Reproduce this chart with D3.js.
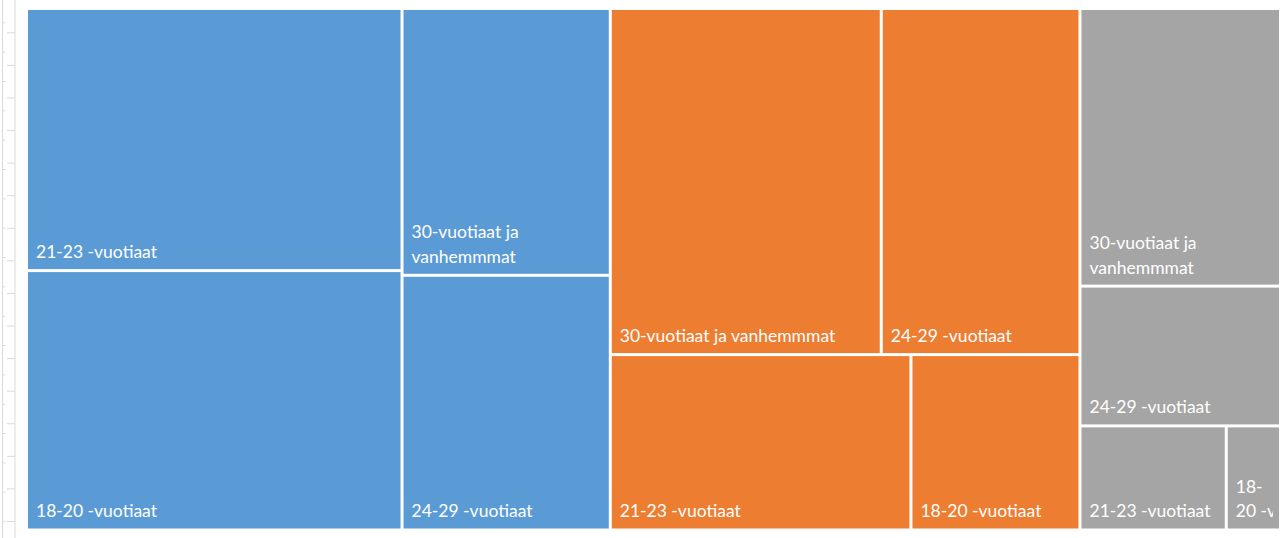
<!DOCTYPE html>
<html>
<head>
<meta charset="utf-8">
<script src="https://cdn.jsdelivr.net/npm/d3@7"></script>
<style>
  body { margin: 0; background: #fff; }
  svg { display: block; }
</style>
</head>
<body>
<div id="chart"></div>
<script>
const width = 1281;
const height = 538;
const area = { left: 28, top: 10, right: 1279, bottom: 528.5 };

// data (areas)
const seriesNames = ["Sarja 1", "Sarja 2", "Sarja 3"];
const ageGroups = ["18-20 -vuotiaat", "21-23 -vuotiaat", "24-29 -vuotiaat", "30-vuotiaat ja vanhemmmat"];
const series1 = [966, 976, 526, 551];
const series2 = [294, 523, 682, 930];
const series3 = [56, 151, 278, 552];
const seriesColors = ["#5B9BD5", "#ED7D31", "#A5A5A5"];

const svg = d3.select('#chart')
  .append('svg')
  .attr('width', width)
  .attr('height', height)
  .attr('viewBox', [0, 0, width, height]);

// ruler strip on the left edge (sheet decoration)
const rulerColor = '#dadada';
svg.append('g')
  .attr('stroke', rulerColor)
  .selectAll('line')
  .data([2.5, 15])
  .join('line')
    .attr('x1', d => d).attr('x2', d => d)
    .attr('y1', 0).attr('y2', height);

const longRuler = d3.scaleLinear().domain([0, 15]).range([32.3, 521]);
const shortRuler = d3.scaleLinear().domain([0, 17]).range([22.3, 521.1]);

svg.append('g')
  .attr('transform', 'translate(15,0)')
  .call(d3.axisLeft(longRuler).ticks(15).tickSize(8).tickFormat(''))
  .call(g => g.select('.domain').remove())
  .call(g => g.selectAll('line').attr('stroke', rulerColor));

svg.append('g')
  .attr('transform', 'translate(2.5,0)')
  .call(d3.axisRight(shortRuler).ticks(17).tickSize(3).tickFormat(''))
  .call(g => g.select('.domain').remove())
  .call(g => g.selectAll('line').attr('stroke', rulerColor));

// hierarchy
const allValues = [series1, series2, series3];
const data = {
  name: 'root',
  children: seriesNames.map((s, i) => ({
    name: s,
    color: seriesColors[i],
    children: ageGroups.map((a, j) => ({ name: a, value: allValues[i][j] }))
  }))
};

const root = d3.hierarchy(data)
  .sum(d => d.value || 0)
  .sort((a, b) => b.value - a.value);

d3.treemap()
  .tile(d3.treemapSquarify.ratio(1))
  .size([area.right - area.left, area.bottom - area.top])
  .paddingInner(3)
  .round(false)(root);

const chart = svg.append('g')
  .attr('transform', `translate(${area.left},${area.top})`);

const leaves = root.leaves();

const cell = chart.selectAll('g.cell')
  .data(leaves)
  .join('g')
    .attr('class', 'cell')
    .attr('transform', d => `translate(${d.x0},${d.y0})`);

cell.append('rect')
  .attr('width', d => d.x1 - d.x0)
  .attr('height', d => d.y1 - d.y0)
  .attr('fill', d => d.parent.data.color);

cell.append('clipPath')
  .attr('id', (d, i) => 'clip' + i)
  .append('rect')
    .attr('width', d => Math.max(0, d.x1 - d.x0 - 6))
    .attr('height', d => d.y1 - d.y0);

// label wrapping, Excel style: break after spaces and after hyphens inside words
const fontFamily = 'Lato, "Open Sans", sans-serif';
const fontSize = 17.5;
const lineHeight = 24.5;
const padX = 8;
const padBottom = 11;

const measure = svg.append('text')
  .attr('font-family', fontFamily)
  .attr('font-size', fontSize)
  .attr('visibility', 'hidden');

function textWidth(s) {
  measure.text(s);
  return measure.node().getComputedTextLength();
}

function segments(label) {
  const out = [];
  let cur = '';
  for (let i = 0; i < label.length; i++) {
    const ch = label[i];
    cur += ch;
    if (ch === ' ' && label[i + 1] !== '-') { out.push(cur); cur = ''; }
    else if (ch === '-' && i > 0 && /[0-9A-Za-z]/.test(label[i - 1])) { out.push(cur); cur = ''; }
  }
  if (cur) out.push(cur);
  return out;
}

function wrap(label, avail) {
  const lines = [];
  let line = '';
  segments(label).forEach(seg => {
    if (line && textWidth((line + seg).trim()) > avail) {
      lines.push(line.trim());
      line = seg;
    } else {
      line += seg;
    }
  });
  if (line) lines.push(line.trim());
  return lines;
}

cell.append('text')
  .attr('clip-path', (d, i) => `url(#clip${i})`)
  .attr('font-family', fontFamily)
  .attr('font-size', fontSize)
  .attr('fill', '#fff')
  .each(function(d) {
    const lines = wrap(d.data.name, d.x1 - d.x0 - 2 * padX);
    const h = d.y1 - d.y0;
    d3.select(this).selectAll('tspan')
      .data(lines)
      .join('tspan')
        .attr('x', padX)
        .attr('y', (l, k) => h - padBottom - (lines.length - 1 - k) * lineHeight)
        .text(l => l);
  });

measure.remove();
</script>
</body>
</html>
